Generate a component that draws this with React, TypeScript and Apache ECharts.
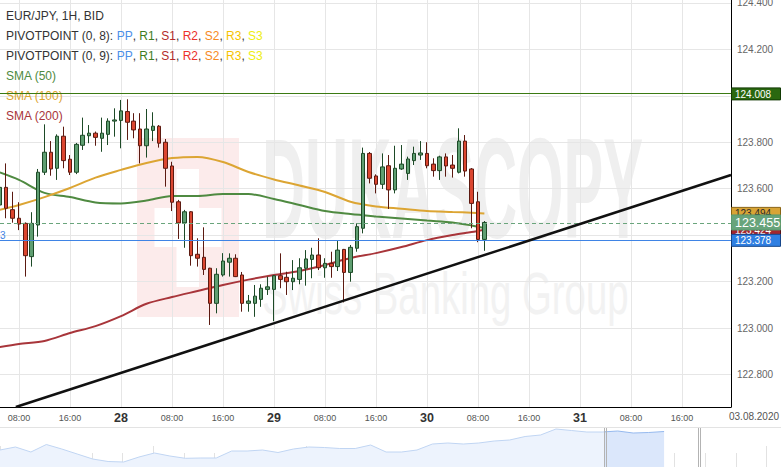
import React, { useEffect, useRef } from 'react';
import * as echarts from 'echarts';

const FONT = 'Arial, "Liberation Sans", Helvetica, sans-serif';

// ---- texts ----
const TITLE = 'EUR/JPY, 1H, BID';
const PIVOT_SETS = ['(0, 8)', '(0, 9)'];
const PIVOT_KEYS = ['PP', 'R1', 'S1', 'R2', 'S2', 'R3', 'S3'];
const PIVOT_KEY_COLORS = ['#4b8fe8', '#3d7d22', '#b32b2b', '#ec2f2a', '#f6891e', '#f5c300', '#eeee10'];
const SMA_PERIODS = [50, 100, 200];
const SMA_COLORS = ['#4f8a41', '#dca533', '#a8353a'];
const DAY_LABELS = ['27', '28', '29', '30', '31'];
const NEXT_SESSION_LABEL = '03.08.2020';

// ---- candles: x = hours since Mon 27 Jul 2020 00:00 ----
const FIRST_HOUR = 5;
const OPEN = [
  123.530, 123.606, 123.510, 123.473, 123.451, 123.308, 123.444, 123.671, 123.757, 123.688,
  123.826, 123.727, 123.671, 123.787, 123.828, 123.839, 123.817, 123.834, 123.891, 123.894,
  123.932, 123.891, 123.857, 123.785, 123.851, 123.869, 123.800, 123.698, 123.544, 123.453,
  123.501, 123.318, 123.305, 123.258, 123.107, 123.229, 123.284, 123.301, 123.229, 123.107,
  123.107, 123.124, 123.167, 123.167, 123.226, 123.219, 123.200, 123.210, 123.258, 123.296,
  123.315, 123.260, 123.279, 123.265, 123.339, 123.240, 123.344, 123.430, 123.752, 123.655,
  123.619, 123.699, 123.595, 123.685, 123.666, 123.721, 123.745, 123.752, 123.706, 123.678,
  123.737, 123.702, 123.671, 123.805, 123.685, 123.544, 123.382,
];
const CLOSE = [
  123.606, 123.516, 123.473, 123.448, 123.312, 123.451, 123.671, 123.757, 123.685, 123.826,
  123.721, 123.671, 123.791, 123.830, 123.839, 123.821, 123.839, 123.891, 123.896, 123.935,
  123.886, 123.853, 123.785, 123.857, 123.869, 123.796, 123.688, 123.542, 123.453, 123.501,
  123.312, 123.301, 123.253, 123.107, 123.232, 123.289, 123.301, 123.222, 123.107, 123.117,
  123.138, 123.172, 123.178, 123.226, 123.210, 123.200, 123.215, 123.260, 123.298, 123.315,
  123.260, 123.279, 123.265, 123.336, 123.240, 123.348, 123.437, 123.752, 123.645, 123.619,
  123.694, 123.595, 123.688, 123.706, 123.728, 123.752, 123.754, 123.699, 123.678, 123.737,
  123.698, 123.688, 123.805, 123.676, 123.537, 123.382, 123.455,
];
const LOW = [
  123.520, 123.473, 123.454, 123.422, 123.222, 123.265, 123.394, 123.659, 123.656, 123.638,
  123.688, 123.659, 123.663, 123.767, 123.796, 123.785, 123.759, 123.788, 123.824, 123.774,
  123.810, 123.817, 123.709, 123.734, 123.805, 123.777, 123.609, 123.504, 123.384, 123.346,
  123.269, 123.265, 123.229, 123.014, 123.064, 123.222, 123.222, 123.220, 123.071, 123.071,
  123.049, 123.092, 123.143, 123.030, 123.172, 123.143, 123.164, 123.189, 123.183, 123.215,
  123.250, 123.217, 123.217, 123.246, 123.111, 123.200, 123.329, 123.408, 123.623, 123.580,
  123.599, 123.513, 123.580, 123.681, 123.638, 123.702, 123.724, 123.688, 123.652, 123.638,
  123.652, 123.648, 123.666, 123.652, 123.430, 123.370, 123.333,
];
const HIGH = [
  123.640, 123.709, 123.587, 123.542, 123.455, 123.499, 123.685, 123.877, 123.805, 123.834,
  123.867, 123.745, 123.797, 123.906, 123.874, 123.846, 123.906, 123.903, 123.946, 123.982,
  123.985, 123.925, 123.925, 123.943, 123.929, 123.874, 123.814, 123.716, 123.552, 123.509,
  123.504, 123.387, 123.434, 123.260, 123.258, 123.323, 123.322, 123.318, 123.242, 123.143,
  123.186, 123.189, 123.222, 123.229, 123.322, 123.243, 123.293, 123.301, 123.336, 123.346,
  123.387, 123.301, 123.329, 123.375, 123.341, 123.358, 123.451, 123.777, 123.758, 123.662,
  123.752, 123.745, 123.785, 123.788, 123.738, 123.781, 123.805, 123.800, 123.731, 123.742,
  123.752, 123.745, 123.860, 123.831, 123.689, 123.587, 123.461,
];

// ---- moving averages (read at these hours) ----
const SMA_HOURS = [5, 8, 12, 16, 20, 24, 28, 32, 36, 40, 44, 48, 52, 56, 60, 64, 68, 72, 76, 79, 81];
const SMA50 = [123.670, 123.638, 123.582, 123.564, 123.541, 123.537, 123.549, 123.569, 123.569, 123.577, 123.577,
  123.556, 123.530, 123.504, 123.491, 123.481, 123.472, 123.463, 123.455, 123.442, 123.431];
const SMA100 = [123.509, 123.530, 123.564, 123.603, 123.648, 123.681, 123.711, 123.732, 123.737, 123.715, 123.672,
  123.640, 123.614, 123.586, 123.544, 123.524, 123.514, 123.504, 123.500, 123.497, 123.494];
const SMA200 = [122.919, 122.932, 122.945, 122.979, 123.009, 123.052, 123.105, 123.134, 123.160, 123.186, 123.209,
  123.229, 123.246, 123.272, 123.302, 123.323, 123.349, 123.379, 123.401, 123.414, 123.424];

// ---- levels ----
const PIVOT_PP = 123.378;
const PIVOT_R1 = 124.008;
const TREND_HOURS = [7.5, 119.687];
const TREND_VALUES = [122.661, 123.659];

// ---- navigator history (relative level, business-day units) ----
const NAV_STEP = 0.5037;
const NAV_VALUES = [17, 20, 15, 22.5, 18, 13, 8, 5.5, 5, 10, 14, 11, 8.7, 9, 9, 16, 16, 17, 14.5, 18, 20, 19.5,
  18.5, 18.5, 22, 15, 15, 17, 23, 24, 23, 24, 26, 27, 30.5, 32, 38, 36.5, 35, 35, 36, 34, 34.5, 35.5];
const NAV_WINDOW = [19.765, 22.83];
const NAV_MAX = 25.47;

// ---- axis ranges ----
const X_MIN = 5.02;
const X_MAX = 119.687;
const Y_MIN = 122.661;
const Y_MAX = 124.412;

const LAST = CLOSE[CLOSE.length - 1];
// values that carry a price box on the right axis (the plain axis label is covered there)
const BOXED = [PIVOT_R1, PIVOT_PP, LAST, SMA100[SMA100.length - 1], SMA200[SMA200.length - 1]];

function buildOption(): any {
  const candles = OPEN.map((o, i) => [FIRST_HOUR + i, o, CLOSE[i], LOW[i], HIGH[i]]);
  const smaSeries = [SMA50, SMA100, SMA200].map((arr, k) => ({
    type: 'line', xAxisIndex: 0, yAxisIndex: 0, z: 2, silent: true,
    data: SMA_HOURS.map((h, i) => [h, arr[i]]),
    symbol: 'none', smooth: 0.3,
    lineStyle: { color: SMA_COLORS[k], width: 2 },
  }));
  const navData = NAV_VALUES.map((v, i) => [i * NAV_STEP, v]);
  const hiddenY = (gi: number) => ({ type: 'value', gridIndex: gi, min: 0, max: 40, show: false });
  return {
    animation: false,
    backgroundColor: '#ffffff',
    textStyle: { fontFamily: FONT },
    grid: [
      { left: 0, right: 50, top: 0, bottom: 60, containLabel: false, outerBoundsMode: 'none' },
      { left: 0, width: 606, top: 427, height: 40, containLabel: false, outerBoundsMode: 'none' },
      { left: 606, width: 94, top: 427, height: 40, containLabel: false, outerBoundsMode: 'none' },
      { left: 0, right: 0, top: 427, height: 40, containLabel: false, outerBoundsMode: 'none' },
      { left: 0, right: 0, top: 427, height: 40, containLabel: false, outerBoundsMode: 'none' },
    ],
    xAxis: [
      {
        type: 'value', gridIndex: 0, min: X_MIN, max: X_MAX, minInterval: 8, maxInterval: 8,
        axisLine: { show: true, onZero: false, lineStyle: { color: '#000', width: 1 } },
        axisTick: { show: false },
        splitLine: { show: true, showMinLine: false, showMaxLine: false, lineStyle: { color: '#e6e6e6', width: 1 } },
        axisLabel: {
          show: true, showMinLabel: false, showMaxLabel: false, margin: 5,
          fontSize: 9, color: '#555', fontFamily: FONT, lineHeight: 11,
          formatter: (v: number) => {
            const r = Math.round(v);
            if (r % 24 === 0) return `{d|${DAY_LABELS[r / 24] ?? ''}}`;
            return `${String(r % 24).padStart(2, '0')}:00`;
          },
          rich: { d: { fontSize: 12.5, fontWeight: 'bold', color: '#333', fontFamily: FONT, lineHeight: 11 } },
        },
      },
      { type: 'value', gridIndex: 1, min: 0, max: NAV_WINDOW[0], show: false },
      { type: 'value', gridIndex: 2, min: NAV_WINDOW[0], max: NAV_WINDOW[1], show: false },
      {
        type: 'value', gridIndex: 3, min: 0, max: NAV_MAX, interval: 1,
        axisLine: { show: false }, axisLabel: { show: false }, splitLine: { show: false },
        axisTick: { show: true, inside: true, length: 14, lineStyle: { color: '#e2e2e2' } },
      },
      {
        type: 'value', gridIndex: 4, min: 0, max: NAV_MAX, interval: 5,
        axisLine: { show: false }, axisLabel: { show: false }, splitLine: { show: false },
        axisTick: { show: true, inside: true, length: 21, lineStyle: { color: '#e2e2e2' } },
      },
    ],
    yAxis: [
      {
        type: 'value', gridIndex: 0, position: 'right', min: Y_MIN, max: Y_MAX, splitNumber: 9,
        minInterval: 0.2, maxInterval: 0.2,
        axisLine: { show: true, lineStyle: { color: '#000', width: 1 } },
        axisTick: { show: false },
        splitLine: { show: true, showMinLine: false, showMaxLine: false, lineStyle: { color: '#e6e6e6', width: 1 } },
        axisLabel: {
          show: true, showMinLabel: false, showMaxLabel: false, margin: 6,
          fontSize: 10, color: '#666', fontFamily: FONT,
          formatter: (v: number) => (BOXED.some((b) => Math.abs(b - v) < 0.035) ? '' : v.toFixed(3)),
        },
      },
      hiddenY(1), hiddenY(2), hiddenY(3), hiddenY(4),
    ],
    series: [
      ...smaSeries,
      {
        type: 'candlestick', xAxisIndex: 0, yAxisIndex: 0, z: 3, silent: true,
        data: candles, barWidth: 4,
        itemStyle: {
          color: '#5f9e71', color0: '#db4630',
          borderColor: '#1d4a27', borderColor0: '#5c1a11', borderWidth: 1,
        },
      },
      {
        type: 'line', xAxisIndex: 0, yAxisIndex: 0, z: 6, silent: true,
        data: TREND_HOURS.map((h, i) => [h, TREND_VALUES[i]]),
        symbol: 'none', lineStyle: { color: '#111', width: 2.5 },
      },
      {
        type: 'line', xAxisIndex: 0, yAxisIndex: 0, data: [], silent: true,
        markLine: {
          silent: true, symbol: ['none', 'none'], label: { show: false }, animation: false,
          data: [
            { yAxis: PIVOT_R1, lineStyle: { color: '#3b7a12', width: 1, type: 'solid' } },
            { yAxis: PIVOT_PP, lineStyle: { color: '#3f84e5', width: 1, type: 'solid' } },
            { yAxis: LAST, lineStyle: { color: '#6aa57c', width: 1, type: [4, 3] } },
          ],
        },
      },
      {
        type: 'line', xAxisIndex: 1, yAxisIndex: 1, data: navData, symbol: 'none', silent: true,
        lineStyle: { color: '#c0d5f3', width: 1 }, areaStyle: { color: '#edf3fd', opacity: 1 },
      },
      {
        type: 'line', xAxisIndex: 2, yAxisIndex: 2, data: navData, symbol: 'none', silent: true,
        lineStyle: { color: '#95b9ee', width: 1 }, areaStyle: { color: '#dbe7fb', opacity: 1 },
      },
    ],
  };
}

function buildGraphics(yPix: (v: number) => number, navPix: (v: number) => number): any[] {
  const g: any[] = [];
  // watermark
  g.push({ type: 'rect', silent: true, z: -10, shape: { x: 137, y: 138, width: 102, height: 179 }, style: { fill: '#fcebeb' } });
  g.push({ type: 'rect', silent: true, z: -9, shape: { x: 176.5, y: 169, width: 22.5, height: 118 }, style: { fill: '#ffffff' } });
  g.push({ type: 'rect', silent: true, z: -9, shape: { x: 154.5, y: 208, width: 67, height: 39 }, style: { fill: '#ffffff' } });
  g.push({
    type: 'text', silent: true, z: -8, x: 262, y: 188, scaleX: 0.42,
    style: { text: 'DUKASCOPY', fontSize: 142, fontWeight: 'bold', fontFamily: FONT, fill: '#efefef', verticalAlign: 'middle', align: 'left' },
  });
  g.push({
    type: 'text', silent: true, z: -8, x: 262, y: 294, scaleX: 0.65,
    style: { text: 'Swiss Banking Group', fontSize: 59, fontFamily: FONT, fill: '#f2f2f2', verticalAlign: 'middle', align: 'left' },
  });

  // legend lines
  const base = { fontSize: 12, fontFamily: FONT };
  const rich: any = { k: { ...base, fill: '#333' } };
  PIVOT_KEYS.forEach((key, i) => { rich['p' + i] = { ...base, fill: PIVOT_KEY_COLORS[i] }; });
  const lines: { text: string }[] = [{ text: `{k|${TITLE}}` }];
  PIVOT_SETS.forEach((s) => {
    const keys = PIVOT_KEYS.map((key, i) => `{p${i}|${key}}`).join('{k|, }');
    lines.push({ text: `{k|PIVOTPOINT ${s}: }${keys}` });
  });
  SMA_PERIODS.forEach((p, i) => {
    rich['m' + i] = { ...base, fill: SMA_COLORS[i] };
    lines.push({ text: `{m${i}|SMA (${p})}` });
  });
  lines.forEach((ln, i) => {
    g.push({
      type: 'text', silent: true, z: 1, x: 6, y: 15.5 + i * 20,
      style: { text: ln.text, rich, ...base, fill: '#333', verticalAlign: 'middle' },
    });
  });

  // cut-off PP label at the left edge
  g.push({
    type: 'text', silent: true, z: 1, x: 0, y: yPix(PIVOT_PP) - 5,
    style: { text: '3', fontSize: 10, fontFamily: FONT, fill: '#3f84e5', verticalAlign: 'middle' },
  });

  // right-hand price boxes
  const boxes = [
    { v: SMA100[SMA100.length - 1], fill: '#d8a436', stroke: '#8a6414', color: '#2a2a2a', h: 12, fs: 10 },
    { v: SMA200[SMA200.length - 1], fill: '#a3262e', stroke: '#5a1015', color: '#ffffff', h: 12, fs: 10 },
    { v: PIVOT_PP, fill: '#2f7fe2', stroke: '#16468a', color: '#ffffff', h: 12, fs: 10 },
    { v: LAST, fill: '#68a47b', stroke: '#5a9a6d', color: '#ffffff', h: 15, fs: 12.5 },
    { v: PIVOT_R1, fill: '#2a6810', stroke: '#123a04', color: '#ffffff', h: 12, fs: 10 },
  ];
  boxes.forEach((b, i) => {
    const py = yPix(b.v);
    g.push({
      type: 'rect', silent: true, z: 100 + i * 2,
      shape: { x: 731.5, y: py - b.h / 2, width: 49, height: b.h },
      style: { fill: b.fill, stroke: b.stroke, lineWidth: 1 },
    });
    g.push({
      type: 'text', silent: true, z: 101 + i * 2, x: 735, y: py + 0.5,
      style: { text: b.v.toFixed(3), fontSize: b.fs, fontFamily: FONT, fill: b.color, verticalAlign: 'middle' },
    });
  });

  // next-session label at the right end of the time axis
  g.push({
    type: 'text', silent: true, z: 11, x: 729, y: 416.5,
    style: { text: NEXT_SESSION_LABEL, fontSize: 10, fontFamily: FONT, fill: '#555', verticalAlign: 'middle' },
  });

  // navigator frame + handles
  g.push({ type: 'line', silent: true, z: 20, shape: { x1: 0, y1: 427.5, x2: 781, y2: 427.5 }, style: { stroke: '#e3e3e3', lineWidth: 1 } });
  NAV_WINDOW.forEach((w) => {
    const px = Math.round(navPix(w));
    [px - 1.5, px + 0.5].forEach((x) => {
      g.push({ type: 'line', silent: true, z: 21, shape: { x1: x, y1: 428, x2: x, y2: 467 }, style: { stroke: '#b3b3b3', lineWidth: 1 } });
    });
  });
  return g;
}

export default function App() {
  const ref = useRef<HTMLDivElement>(null);
  useEffect(() => {
    const el = ref.current;
    if (!el) return;
    const chart = echarts.init(el, null, { renderer: 'svg', width: 781, height: 467 });
    chart.setOption(buildOption());
    const yPix = (v: number) => chart.convertToPixel({ yAxisIndex: 0 } as any, v) as unknown as number;
    const navPix = (v: number) => chart.convertToPixel({ xAxisIndex: 3 } as any, v) as unknown as number;
    chart.setOption({ graphic: buildGraphics(yPix, navPix) });
    return () => chart.dispose();
  }, []);
  return (
    <div
      ref={ref}
      style={{ position: 'fixed', left: 0, top: 0, width: 781, height: 467, background: '#fff' }}
    />
  );
}
